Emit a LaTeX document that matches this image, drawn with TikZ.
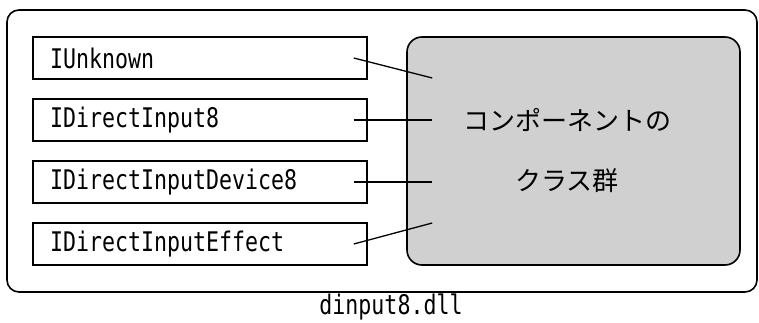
\documentclass[tikz,border=0pt]{standalone}
\usepackage{fontspec}
\usepackage{tikz}
\usetikzlibrary{positioning, calc}
\newfontfamily\halfwidth[FakeStretch=0.8]{DejaVu Sans Mono}
\newfontfamily\fullwidth{Noto Sans CJK JP}
\definecolor{frame}{RGB}{0, 0, 0}
\definecolor{dots}{RGB}{208, 208, 208}
\tikzset{
    iface/.style={rectangle, draw=frame, line width=1.6pt, minimum width=334pt, minimum height=42pt, text width=300pt, inner xsep=17pt, inner ysep=0pt, align=left, font=\fontsize{27}{30}\selectfont\halfwidth},
    classes/.style={rectangle, rounded corners=15pt, draw=frame, line width=1.6pt, fill=dots, minimum width=333pt, minimum height=228pt},
    jp/.style={font=\fontsize{26}{30}\selectfont\fullwidth, inner sep=0pt},
    link/.style={line width=1.3pt, frame}
}
\begin{document}
\begin{tikzpicture}[x=1pt, y=1pt]
                \useasboundingbox (0,0) rectangle (759,322);
                % module outline
                \node[draw=frame, line width=1.6pt, rounded corners=12pt, minimum width=750pt, minimum height=282pt] (dll) at (382,171) {};
                \node[font=\fontsize{27}{30}\selectfont\halfwidth, inner sep=0pt] (dllname) at (391,15) {dinput8.dll};
                % exposed interfaces
                \node[iface] (iunk) at (200,264) {IUnknown};
                \node[iface] (idi) at (200,202) {IDirectInput8};
                \node[iface] (idev) at (200,140) {IDirectInputDevice8};
                \node[iface] (ieff) at (200,78) {IDirectInputEffect};
                % implementation block
                \node[classes] (cls) at (573.5,171) {};
                \node[jp] (clsa) at (567,202) {コンポーネントの};
                \node[jp] (clsb) at (567,141) {クラス群};
                \draw[link] ([xshift=-14pt]iunk.east) -- ([xshift=26pt, yshift=73pt]cls.west);
                \draw[link] ([xshift=-14pt]idi.east) -- ([xshift=26pt, yshift=31pt]cls.west);
                \draw[link] ([xshift=-14pt]idev.east) -- ([xshift=26pt, yshift=-31pt]cls.west);
                \draw[link] ([xshift=-14pt]ieff.east) -- ([xshift=26pt, yshift=-72pt]cls.west);
            \end{tikzpicture}
\end{document}
